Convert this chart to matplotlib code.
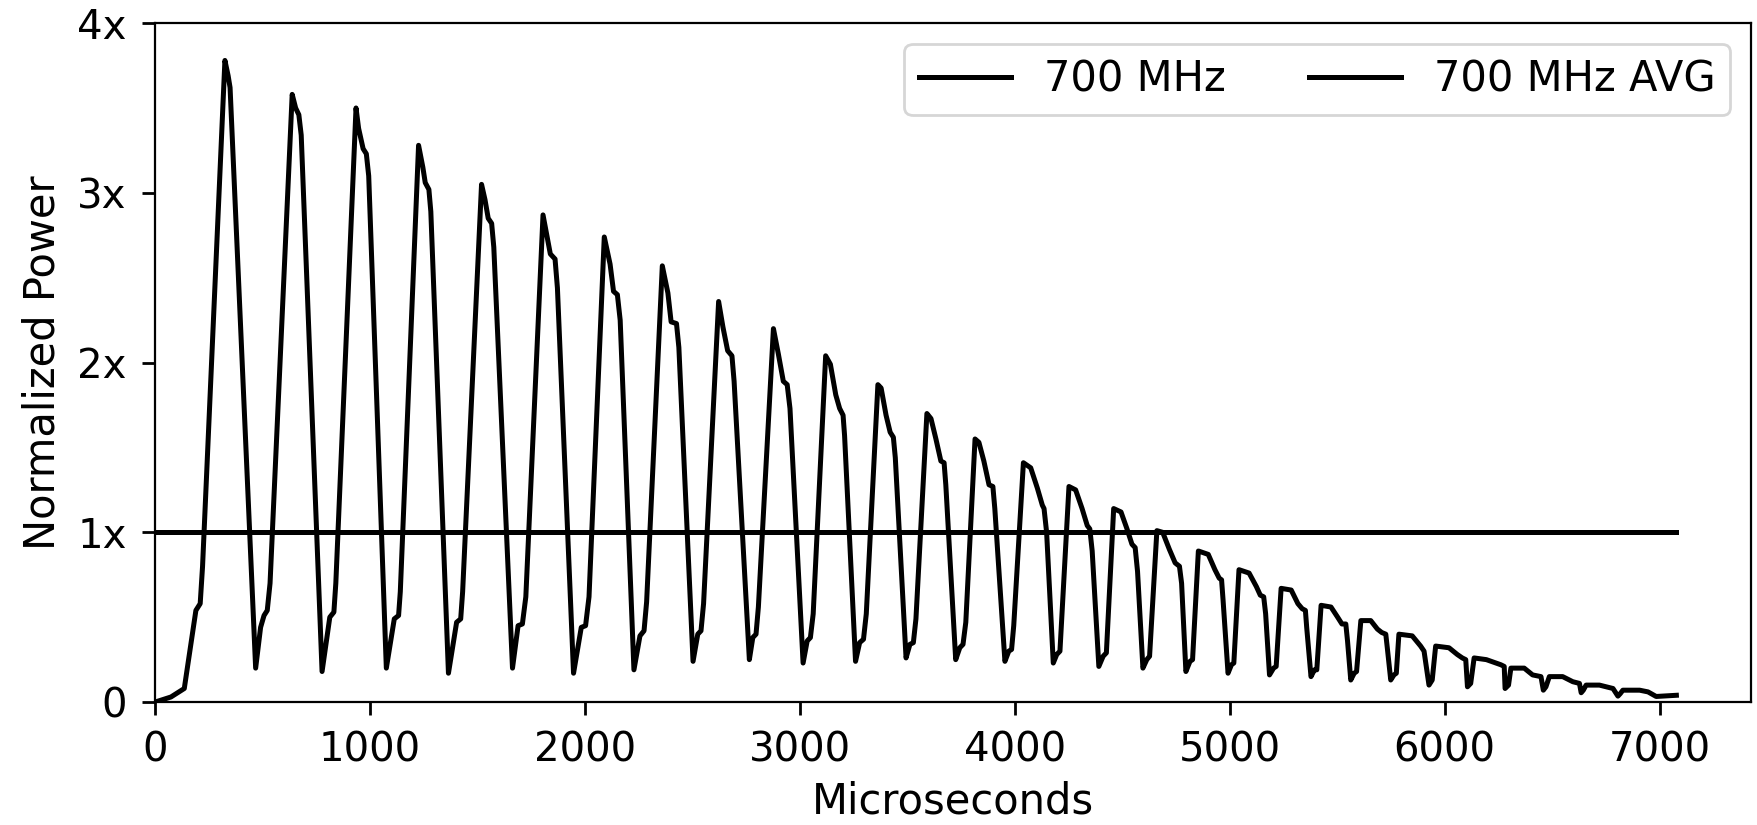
import matplotlib
matplotlib.use("Agg")
import matplotlib.pyplot as plt

# 700 MHz power trace (microseconds, normalized power)
time_us = [
    0, 74, 136, 190, 210, 221, 325, 340, 349, 468, 491, 507, 522, 535,
    638, 654, 669, 680, 777, 813, 832, 841,
    935, 947, 968, 983, 994, 1076, 1113, 1133, 1141,
    1226, 1246, 1257, 1274, 1283, 1365, 1403, 1422, 1431,
    1519, 1535, 1550, 1566, 1576, 1663, 1689, 1709, 1725,
    1805, 1824, 1839, 1861, 1872, 1947, 1983, 2003, 2019,
    2090, 2117, 2133, 2151, 2164, 2228, 2256, 2275, 2287,
    2360, 2386, 2401, 2426, 2437, 2503, 2525, 2540, 2552,
    2622, 2642, 2664, 2684, 2694, 2765, 2781, 2796, 2807,
    2877, 2900, 2923, 2941, 2954, 3015, 3034, 3049, 3062,
    3120, 3142, 3167, 3185, 3201, 3208, 3259, 3278, 3296, 3309,
    3363, 3378, 3401, 3420, 3435, 3444, 3494, 3512, 3528, 3540,
    3591, 3610, 3633, 3656, 3671, 3679, 3725, 3744, 3759, 3772,
    3815, 3833, 3856, 3880, 3898, 3907, 3954, 3972, 3985, 3995,
    4040, 4074, 4105, 4128, 4136, 4148, 4179, 4195, 4210,
    4252, 4283, 4313, 4337, 4349, 4360, 4391, 4411, 4426,
    4460, 4494, 4522, 4545, 4560, 4571, 4596, 4614, 4627,
    4661, 4688, 4719, 4746, 4766, 4776, 4796, 4815, 4827,
    4854, 4900, 4931, 4951, 4962, 4969, 4992, 5008, 5019,
    5043, 5090, 5124, 5142, 5158, 5167, 5185, 5204, 5216,
    5239, 5286, 5317, 5337, 5352, 5358, 5378, 5394, 5405,
    5425, 5471, 5502, 5522, 5540, 5548, 5563, 5579, 5590,
    5610, 5656, 5687, 5707, 5726, 5733, 5749, 5764, 5775,
    5787, 5849, 5888, 5904, 5927, 5942,
    5958, 6020, 6059, 6082, 6098, 6106, 6121,
    6137, 6194, 6238, 6261, 6277, 6281, 6297,
    6308, 6370, 6409, 6448, 6459, 6471,
    6487, 6549, 6596, 6627, 6635, 6645,
    6658, 6720, 6783, 6806, 6817,
    6829, 6907, 6946, 6984, 7078,
]
power_700 = [
    0.00, 0.03, 0.08, 0.54, 0.58, 0.80, 3.78, 3.69, 3.62, 0.20, 0.44, 0.51, 0.54, 0.70,
    3.58, 3.50, 3.46, 3.34, 0.18, 0.50, 0.53, 0.70,
    3.50, 3.38, 3.26, 3.23, 3.10, 0.20, 0.49, 0.51, 0.65,
    3.28, 3.15, 3.06, 3.02, 2.89, 0.17, 0.47, 0.49, 0.65,
    3.05, 2.96, 2.85, 2.82, 2.68, 0.20, 0.45, 0.46, 0.62,
    2.87, 2.74, 2.64, 2.61, 2.44, 0.17, 0.44, 0.45, 0.62,
    2.74, 2.58, 2.42, 2.40, 2.25, 0.19, 0.39, 0.42, 0.59,
    2.57, 2.41, 2.24, 2.23, 2.09, 0.24, 0.40, 0.42, 0.58,
    2.36, 2.21, 2.07, 2.04, 1.89, 0.25, 0.38, 0.40, 0.56,
    2.20, 2.05, 1.89, 1.87, 1.73, 0.23, 0.36, 0.38, 0.52,
    2.04, 1.99, 1.81, 1.73, 1.69, 1.57, 0.24, 0.35, 0.37, 0.52,
    1.87, 1.85, 1.69, 1.59, 1.56, 1.44, 0.26, 0.34, 0.35, 0.49,
    1.70, 1.67, 1.55, 1.42, 1.41, 1.28, 0.25, 0.32, 0.34, 0.47,
    1.55, 1.53, 1.42, 1.28, 1.27, 1.14, 0.24, 0.30, 0.31, 0.45,
    1.41, 1.38, 1.26, 1.16, 1.14, 1.00, 0.23, 0.28, 0.30,
    1.27, 1.25, 1.14, 1.04, 1.02, 0.89, 0.21, 0.27, 0.29,
    1.14, 1.12, 1.02, 0.93, 0.91, 0.77, 0.20, 0.25, 0.27,
    1.01, 1.00, 0.90, 0.82, 0.80, 0.70, 0.18, 0.24, 0.25,
    0.89, 0.87, 0.78, 0.73, 0.72, 0.60, 0.17, 0.22, 0.23,
    0.78, 0.76, 0.68, 0.63, 0.62, 0.52, 0.16, 0.20, 0.21,
    0.67, 0.66, 0.58, 0.55, 0.54, 0.44, 0.15, 0.19, 0.19,
    0.57, 0.56, 0.50, 0.46, 0.46, 0.36, 0.13, 0.17, 0.18,
    0.48, 0.48, 0.43, 0.41, 0.40, 0.32, 0.13, 0.16, 0.17,
    0.40, 0.39, 0.33, 0.30, 0.10, 0.13,
    0.33, 0.32, 0.28, 0.26, 0.25, 0.09, 0.11,
    0.26, 0.25, 0.23, 0.22, 0.21, 0.08, 0.10,
    0.20, 0.20, 0.16, 0.15, 0.07, 0.09,
    0.15, 0.15, 0.12, 0.11, 0.055, 0.07,
    0.10, 0.10, 0.08, 0.035, 0.05,
    0.07, 0.07, 0.06, 0.033, 0.04,
]
avg_level = 1.0

yticks = [0, 1, 2, 3, 4]
ytick_labels = ["0", "1x", "2x", "3x", "4x"]

plt.rcParams["font.family"] = "DejaVu Sans"
plt.rcParams["font.size"] = 14.5

fig = plt.figure(figsize=(8.79, 4.125), dpi=200)
ax = fig.add_axes([0.0882, 0.149, 0.9078, 0.823])

ax.plot(time_us, power_700, color="black", lw=1.8, label="700 MHz")
ax.plot([time_us[0], time_us[-1]], [avg_level, avg_level], color="black", lw=1.8,
        label="700 MHz AVG")

ax.set_xlim(0, 7425)
ax.set_ylim(0, 4)
ax.set_xticks(range(0, 7001, 1000))
ax.set_yticks(yticks)
ax.set_yticklabels(ytick_labels)
ax.tick_params(length=4.7, width=1.0, pad=5.5)
ax.set_xlabel("Microseconds", fontsize=15, labelpad=3.5)
ax.set_ylabel("Normalized Power", fontsize=15, labelpad=5)

ax.legend(loc="upper right", ncol=2, fontsize=15, borderpad=0.35,
          handlelength=2.2, handletextpad=0.8, columnspacing=2.0)

fig.savefig("out.png", dpi=200)
